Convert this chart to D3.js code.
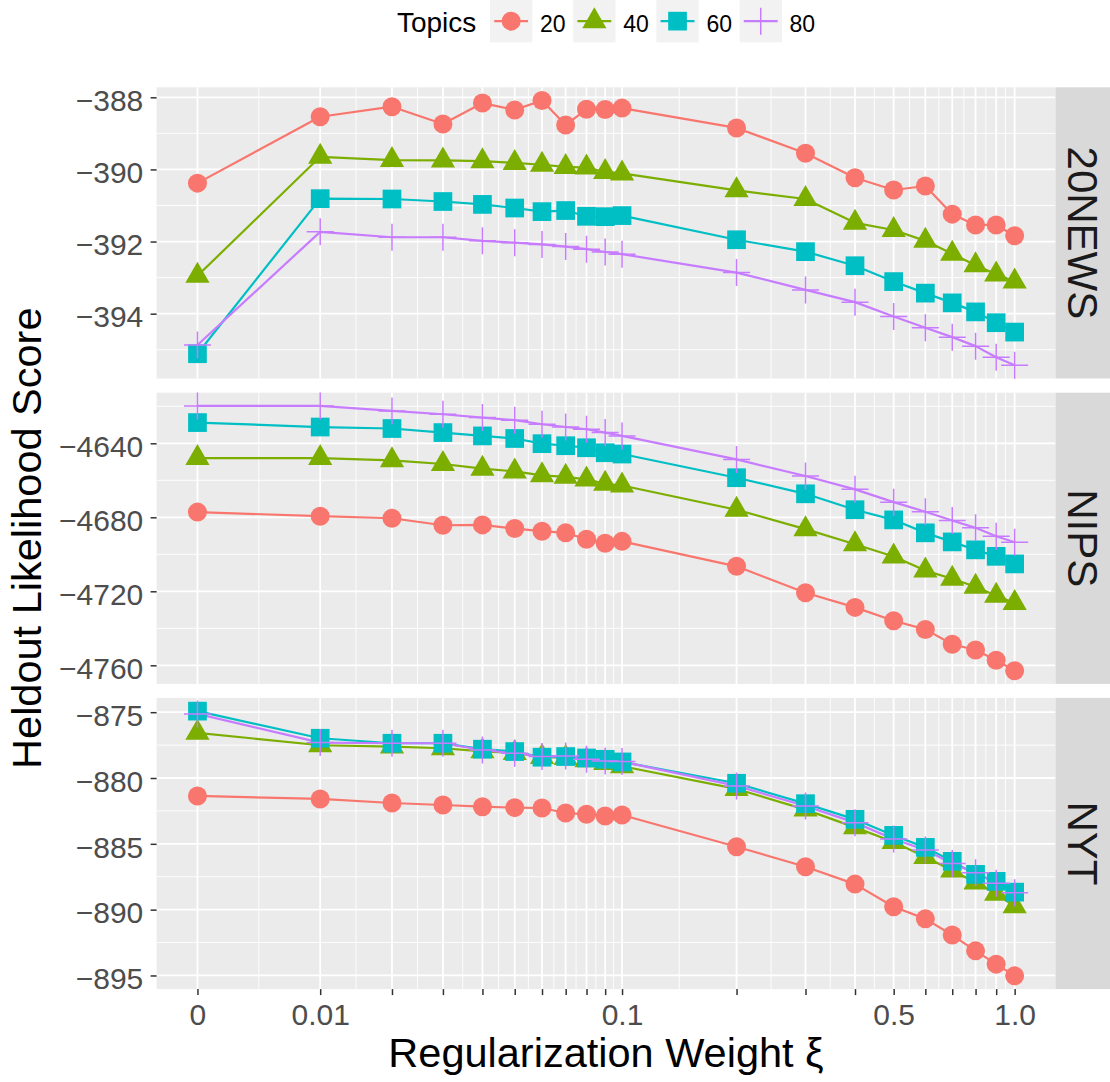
<!DOCTYPE html>
<html>
<head>
<meta charset="utf-8">
<script src="https://cdn.jsdelivr.net/npm/d3@7"></script>
<style>
  body { margin: 0; background: #ffffff; }
  svg { display: block; }
  text { font-family: "Liberation Sans", Arial, Helvetica, sans-serif; }
</style>
</head>
<body>
<svg id="chart" width="1110" height="1082"></svg>
<script>
// Regularization weights (x) and which of them carry a tick label
const xValues = [0, 0.01, 0.02, 0.03, 0.04, 0.05, 0.06, 0.07, 0.08, 0.09, 0.1,
                 0.2, 0.3, 0.4, 0.5, 0.6, 0.7, 0.8, 0.9, 1.0];
const xTickLabels = ["0", "0.01", "", "", "", "", "", "", "", "", "0.1",
                     "", "", "", "0.5", "", "", "", "", "1.0"];

const topics = ["20", "40", "60", "80"];
const topicColors = ["#F8766D", "#7CAE00", "#00BFC4", "#C77CFF"];
const datasets = ["20NEWS", "NIPS", "NYT"];

// Heldout likelihood, 20NEWS
const news20Topics20 = [-390.38, -388.54, -388.26, -388.74, -388.16, -388.35, -388.09, -388.77, -388.33, -388.34, -388.30,
                        -388.85, -389.55, -390.23, -390.57, -390.46, -391.24, -391.54, -391.54, -391.84];
const news20Topics40 = [-392.95, -389.65, -389.74, -389.75, -389.77, -389.82, -389.87, -389.93, -389.95, -390.07, -390.11,
                        -390.58, -390.82, -391.48, -391.68, -391.98, -392.34, -392.66, -392.91, -393.11];
const news20Topics60 = [-395.11, -390.81, -390.82, -390.89, -390.97, -391.07, -391.17, -391.14, -391.30, -391.31, -391.28,
                        -391.95, -392.28, -392.67, -393.11, -393.43, -393.70, -393.95, -394.25, -394.51];
const news20Topics80 = [-394.87, -391.73, -391.88, -391.88, -391.98, -392.03, -392.08, -392.14, -392.21, -392.29, -392.35,
                        -392.86, -393.34, -393.68, -394.08, -394.39, -394.65, -394.90, -395.21, -395.43];

// Heldout likelihood, NIPS
const nipsTopics20 = [-4677.2, -4679.4, -4680.5, -4684.3, -4684.1, -4686.1, -4687.5, -4688.4, -4691.9, -4694.0, -4693.0,
                      -4706.5, -4720.8, -4728.7, -4735.9, -4740.6, -4748.6, -4751.7, -4757.3, -4762.9];
const nipsTopics40 = [-4648.0, -4648.0, -4649.2, -4651.2, -4653.7, -4655.2, -4657.3, -4658.1, -4659.5, -4661.9, -4662.8,
                      -4675.9, -4686.4, -4694.6, -4701.2, -4708.8, -4713.2, -4717.5, -4722.4, -4726.3];
const nipsTopics60 = [-4628.8, -4631.2, -4632.0, -4634.2, -4636.0, -4637.4, -4640.2, -4641.3, -4642.4, -4645.1, -4645.8,
                      -4658.6, -4667.3, -4675.9, -4681.4, -4688.4, -4693.3, -4697.6, -4701.1, -4705.2];
const nipsTopics80 = [-4619.8, -4619.8, -4622.5, -4624.3, -4626.1, -4627.5, -4629.7, -4631.2, -4632.4, -4634.2, -4636.0,
                      -4648.7, -4657.7, -4664.9, -4671.8, -4677.0, -4681.7, -4685.7, -4690.2, -4693.5];

// Heldout likelihood, NYT
const nytTopics20 = [-881.36, -881.59, -881.90, -882.05, -882.18, -882.25, -882.28, -882.66, -882.76, -882.89, -882.81,
                     -885.22, -886.74, -888.06, -889.78, -890.70, -891.93, -893.13, -894.14, -895.03];
const nytTopics40 = [-876.57, -877.51, -877.61, -877.74, -877.97, -878.10, -878.40, -878.48, -878.65, -878.86, -879.11,
                     -880.83, -882.40, -883.75, -884.86, -886.00, -887.02, -887.93, -888.79, -889.75];
const nytTopics60 = [-874.92, -876.98, -877.36, -877.36, -877.81, -877.99, -878.42, -878.37, -878.48, -878.58, -878.78,
                     -880.40, -881.95, -883.14, -884.36, -885.27, -886.33, -887.32, -887.85, -888.67];
const nytTopics80 = [-875.13, -877.31, -877.36, -877.36, -877.87, -878.12, -878.37, -878.32, -878.58, -878.70, -878.75,
                     -880.60, -882.13, -883.39, -884.63, -885.47, -886.49, -887.20, -888.00, -888.72];

// Y-axis breaks per facet
const yTicksNews20 = [-394, -392, -390, -388];
const yTicksNips = [-4760, -4720, -4680, -4640];
const yTicksNyt = [-895, -890, -885, -880, -875];

const seriesByPanel = [
  [news20Topics20, news20Topics40, news20Topics60, news20Topics80],
  [nipsTopics20, nipsTopics40, nipsTopics60, nipsTopics80],
  [nytTopics20, nytTopics40, nytTopics60, nytTopics80]
];
const yTicksByPanel = [yTicksNews20, yTicksNips, yTicksNyt];

// ---- layout ----
const W = 1110;
const panelL = 156.6, panelR = 1055.5;
const panelTops = [87.3, 392.7, 697.9];
const panelH = 291.2;
const FONT_TICK = 30, FONT_TITLE = 41.5, FONT_STRIP = 42;

const svg = d3.select("#chart");

// x runs on log10(x + 0.01) so that x = 0 can be shown; 5% expansion like ggplot
const xShift = 0.01;
const tMin = Math.log10(d3.min(xValues) + xShift);
const tMax = Math.log10(d3.max(xValues) + xShift);
const tPad = (tMax - tMin) * 0.05;
const x = d3.scaleLog()
  .domain([Math.pow(10, tMin - tPad), Math.pow(10, tMax + tPad)])
  .range([panelL, panelR]);
const xp = v => x(v + xShift);

// minor breaks halfway between majors (extended one step at each end)
function minorBreaks(b, lo, hi) {
  const step = b[1] - b[0];
  const ext = b.slice();
  if (lo < ext[0]) ext.unshift(ext[0] - step);
  if (hi > ext[ext.length - 1]) ext.push(ext[ext.length - 1] + step);
  const m = [];
  for (let i = 0; i < ext.length - 1; i++) m.push((ext[i] + ext[i + 1]) / 2);
  return m.filter(v => v > lo && v < hi);
}

const xT = xValues.map(v => Math.log10(v + xShift));
const xMinorT = minorBreaks(xT, tMin - tPad, tMax + tPad);

// point shapes in ggplot order: circle, triangle, square, plus
function drawShape(sel, k, color) {
  if (k === 0) {
    sel.append("circle").attr("r", 9.5).attr("fill", color);
  } else if (k === 1) {
    sel.append("path").attr("d", "M0,-14L12.1,7L-12.1,7Z").attr("fill", color);
  } else if (k === 2) {
    sel.append("rect").attr("x", -9.35).attr("y", -9.35).attr("width", 18.7).attr("height", 18.7).attr("fill", color);
  } else {
    sel.append("path").attr("d", "M-13.5,0H13.5M0,-13.5V13.5")
      .attr("stroke", color).attr("stroke-width", 1.5).attr("fill", "none");
  }
}

datasets.forEach((name, pi) => {
  const top = panelTops[pi];
  const series = seriesByPanel[pi];
  const all = series.flat();
  const lo = d3.min(all), hi = d3.max(all), ex = (hi - lo) * 0.05;
  const y = d3.scaleLinear().domain([lo - ex, hi + ex]).range([top + panelH, top]);
  const yTicks = yTicksByPanel[pi];
  const yMinor = minorBreaks(yTicks, lo - ex, hi + ex);

  const g = svg.append("g");
  g.append("rect").attr("x", panelL).attr("y", top)
    .attr("width", panelR - panelL).attr("height", panelH).attr("fill", "#EBEBEB");

  // grid
  const grid = g.append("g").attr("stroke", "#ffffff");
  grid.selectAll(".ymin").data(yMinor).join("line")
    .attr("x1", panelL).attr("x2", panelR).attr("y1", d => y(d)).attr("y2", d => y(d))
    .attr("stroke-width", 0.9);
  grid.selectAll(".xmin").data(xMinorT).join("line")
    .attr("x1", d => x(Math.pow(10, d))).attr("x2", d => x(Math.pow(10, d)))
    .attr("y1", top).attr("y2", top + panelH).attr("stroke-width", 0.9);
  grid.selectAll(".ymaj").data(yTicks).join("line")
    .attr("x1", panelL).attr("x2", panelR).attr("y1", d => y(d)).attr("y2", d => y(d))
    .attr("stroke-width", 1.8);
  grid.selectAll(".xmaj").data(xValues).join("line")
    .attr("x1", d => xp(d)).attr("x2", d => xp(d))
    .attr("y1", top).attr("y2", top + panelH).attr("stroke-width", 1.8);

  // lines
  const line = d3.line().x((d, i) => xp(xValues[i])).y(d => y(d));
  series.forEach((vals, k) => {
    g.append("path").datum(vals).attr("d", line)
      .attr("fill", "none").attr("stroke", topicColors[k]).attr("stroke-width", 2.2)
      .attr("stroke-linejoin", "round");
  });
  // points
  series.forEach((vals, k) => {
    vals.forEach((v, i) => {
      const p = g.append("g").attr("transform", `translate(${xp(xValues[i])},${y(v)})`);
      drawShape(p, k, topicColors[k]);
    });
  });

  // y axis
  const yAxis = g.append("g").attr("transform", `translate(${panelL},0)`)
    .call(d3.axisLeft(y).tickValues(yTicks).tickSize(6).tickSizeOuter(0).tickPadding(7.3)
      .tickFormat(d3.format("d")));
  yAxis.select(".domain").remove();
  yAxis.selectAll(".tick line").attr("stroke", "#333333").attr("stroke-width", 1.5);
  yAxis.selectAll(".tick text").attr("fill", "#4D4D4D").attr("font-size", FONT_TICK)
    .attr("dy", "0.44em").style("font-family", "'Liberation Sans', Arial, sans-serif");

  // strip
  g.append("rect").attr("x", panelR).attr("y", top).attr("width", W - panelR).attr("height", panelH)
    .attr("fill", "#D9D9D9");
  g.append("text").attr("transform", `translate(${panelR + 12.8},${top + panelH / 2}) rotate(90)`)
    .attr("text-anchor", "middle").attr("font-size", FONT_STRIP).attr("fill", "#1A1A1A")
    .text(name);
});

// x axis under the last facet
const bottom = panelTops[2] + panelH;
const xAxis = svg.append("g").attr("transform", `translate(0,${bottom})`)
  .call(d3.axisBottom(x).tickValues(xValues.map(v => v + xShift)).tickSize(6).tickSizeOuter(0)
    .tickPadding(8.5).tickFormat((d, i) => xTickLabels[i]));
xAxis.select(".domain").remove();
xAxis.selectAll(".tick line").attr("stroke", "#333333").attr("stroke-width", 1.5);
xAxis.selectAll(".tick text").attr("fill", "#4D4D4D").attr("font-size", FONT_TICK)
  .style("font-family", "'Liberation Sans', Arial, sans-serif");

// axis titles
const panelMidX = (panelL + panelR) / 2;
svg.append("text").attr("x", panelMidX).attr("y", 1067).attr("text-anchor", "middle")
  .attr("font-size", FONT_TITLE).attr("fill", "#000").text("Regularization Weight ξ");
svg.append("text")
  .attr("transform", `translate(41,${(panelTops[0] + bottom) / 2}) rotate(-90)`)
  .attr("text-anchor", "middle").attr("font-size", FONT_TITLE).attr("fill", "#000")
  .text("Heldout Likelihood Score");

// legend on top
const legend = svg.append("g");
const keySize = 42.3, keyTop = 0, legendBase = 32;
const title = legend.append("text").attr("y", legendBase).attr("font-size", 28).text("Topics");
const labelEls = topics.map(t => legend.append("text").attr("y", legendBase).attr("font-size", 23).text(t));
const titleW = title.node().getComputedTextLength();
const labelWs = labelEls.map(e => e.node().getComputedTextLength());
const gapTitle = 13.7, gapLabel = 7.7, gapItem = 7.6;
const totalW = titleW + gapTitle + d3.sum(labelWs) + topics.length * (keySize + gapLabel) + (topics.length - 1) * gapItem;
let cx = panelMidX - totalW / 2;
title.attr("x", cx);
cx += titleW + gapTitle;
topics.forEach((t, k) => {
  legend.append("rect").attr("x", cx).attr("y", keyTop).attr("width", keySize).attr("height", keySize)
    .attr("fill", "#F2F2F2");
  legend.append("line").attr("x1", cx + keySize * 0.1).attr("x2", cx + keySize * 0.9)
    .attr("y1", keyTop + keySize / 2).attr("y2", keyTop + keySize / 2)
    .attr("stroke", topicColors[k]).attr("stroke-width", 2.2);
  const s = legend.append("g").attr("transform", `translate(${cx + keySize / 2},${keyTop + keySize / 2})`);
  drawShape(s, k, topicColors[k]);
  cx += keySize + gapLabel;
  labelEls[k].attr("x", cx);
  cx += labelWs[k] + gapItem;
});
</script>
</body>
</html>
